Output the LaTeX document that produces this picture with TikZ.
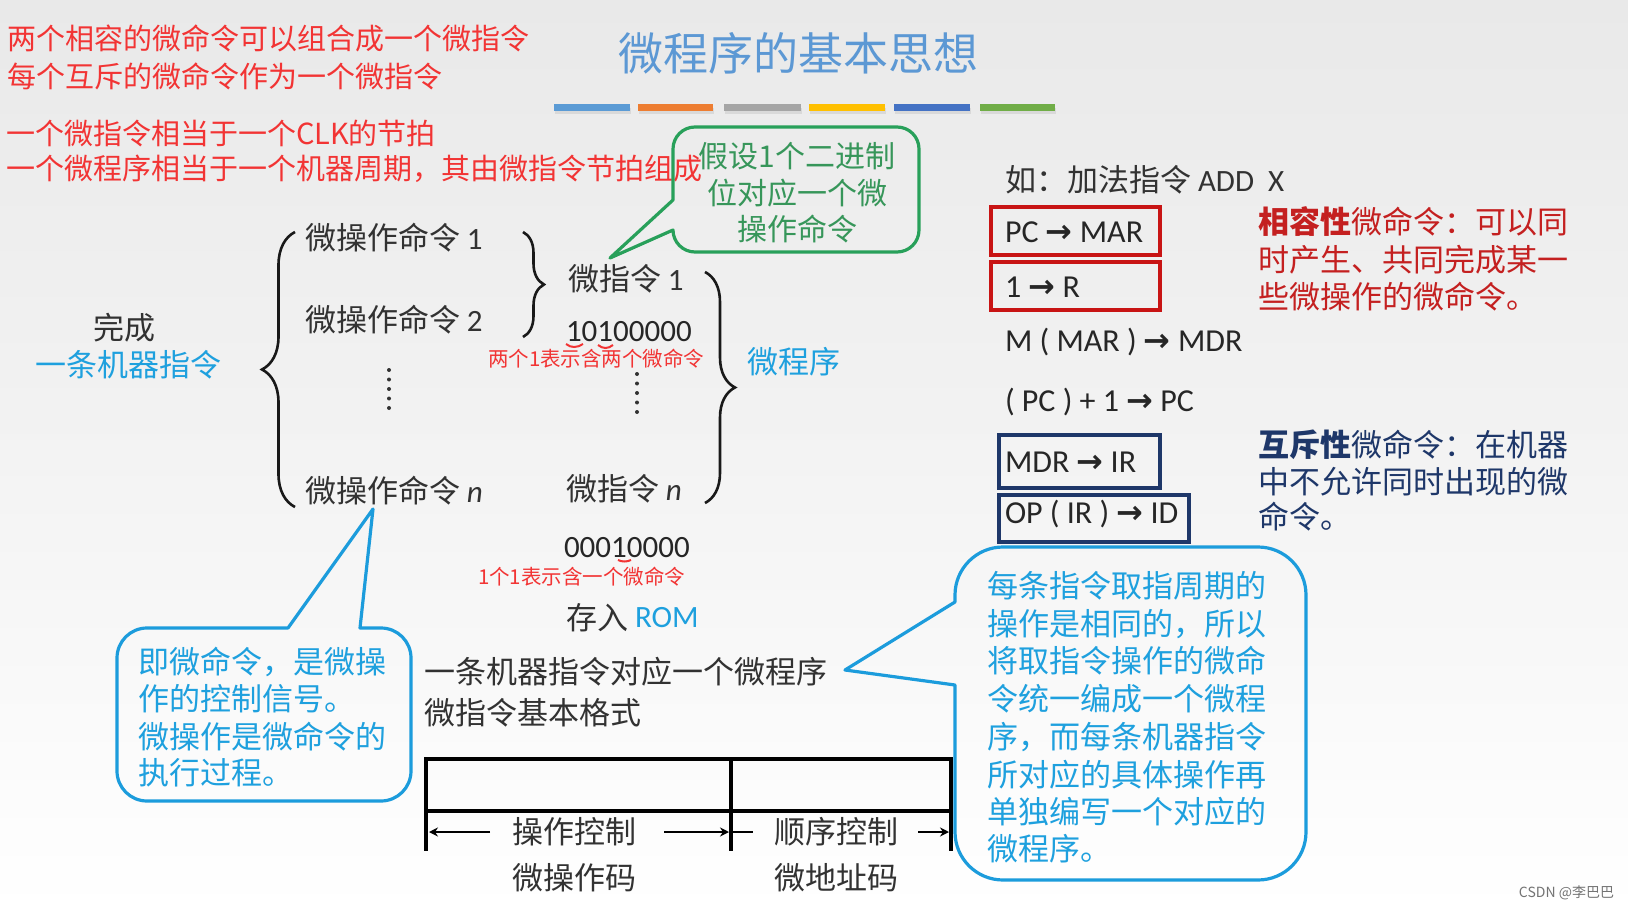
\documentclass[tikz,border=0pt]{standalone}
\usepackage{fontspec}
\setmainfont{Noto Sans CJK SC}
\newfontfamily\carl{Carlito}
\newfontfamily\djv{DejaVu Sans}
\usetikzlibrary{decorations.pathreplacing,arrows.meta}
\definecolor{redtop}{RGB}{242,52,52}
\definecolor{titleblue}{RGB}{92,152,212}
\definecolor{txtgray}{RGB}{50,50,50}
\definecolor{cyanT}{RGB}{30,160,222}
\definecolor{cyanB}{RGB}{28,156,220}
\definecolor{greenB}{RGB}{40,160,90}
\definecolor{greenT}{RGB}{55,150,90}
\definecolor{darkred}{RGB}{196,32,32}
\definecolor{boxred}{RGB}{200,20,20}
\definecolor{navy}{RGB}{30,55,105}
\definecolor{barA}{RGB}{91,155,213}
\definecolor{barB}{RGB}{237,125,49}
\definecolor{barC}{RGB}{165,165,165}
\definecolor{barD}{RGB}{255,192,0}
\definecolor{barE}{RGB}{68,114,196}
\definecolor{barF}{RGB}{112,173,71}
\definecolor{bgtop}{RGB}{233,233,233}
\definecolor{bgmid}{RGB}{243,243,243}
\newcommand\fsz[1]{\fontsize{#1}{#1}\selectfont}
\newcommand\arr{{\djv\bfseries →}}
\begin{document}
\begin{tikzpicture}[x=1pt,y=-1pt,
  every node/.style={inner sep=0pt,outer sep=0pt},
  cn/.style={font=\fsz{31},text=txtgray},
  lt/.style={anchor=west,font=\fsz{31},text=txtgray},
  topred/.style={anchor=west,font=\fsz{29},text=redtop},
  note/.style={anchor=west,font=\fsz{20.5},text=redtop},
  bubtxt/.style={anchor=west,font=\fsz{31},text=cyanT},
  grtxt/.style={font=\fsz{30},text=greenT},
  optxt/.style={anchor=west,font=\carl\fsz{31},text=black!85},
  eqtxt/.style={anchor=west,font=\carl\fsz{32},text=black!85},
  crimson/.style={anchor=west,font=\fsz{31},text=darkred},
  navyt/.style={anchor=west,font=\fsz{31},text=navy},
  bubline/.style={draw=cyanB,line width=3.2pt,line join=round},
  grline/.style={draw=greenB,line width=3.2pt,line join=round},
  brc/.style={decorate,decoration={brace,amplitude=#1},line width=2.6pt,draw=black!90},
  tbl/.style={line width=3.2pt,draw=black},
  tarrow/.style={line width=2.8pt,-{Stealth[length=9pt,width=9pt]}},
  redbox/.style={draw=boxred,line width=3.5pt},
  navybox/.style={draw=navy,line width=3.5pt},
  uline/.style={draw=redtop,line width=2pt}
]
% background
\shade[top color=bgtop,bottom color=white,middle color=bgmid] (0,0) rectangle (1628,912);
\path[use as bounding box] (0,0) rectangle (1628,912);

% title and colour bars
\node[font=\fsz{45},text=titleblue] (title) at (798,53) {微程序的基本思想};
\foreach \a/\b/\c in {554/630/barA,638/713/barB,724/801/barC,809/885/barD,894/970/barE,980/1055/barF}{
  \fill[black!15] (\a+1,108) rectangle (\b+1,114);
  \fill[\c] (\a,104) rectangle (\b,111);
}

% top-left red notes
\node[topred] (t1) at (7,38) {两个相容的微命令可以组合成一个微指令};
\node[topred] (t2) at (7,76) {每个互斥的微命令作为一个微指令};
\node[topred] (t3) at (6,133) {一个微指令相当于一个CLK的节拍};
\node[topred] (t4) at (6,169) {一个微程序相当于一个机器周期，其由微指令节拍组成};

% green bubble
\draw[grline] (610,258) -- (673,200) -- (673,149) arc[start angle=180,end angle=270,radius=22]
  -- (897,127) arc[start angle=270,end angle=360,radius=22]
  -- (919,230) arc[start angle=0,end angle=90,radius=22]
  -- (695,252) arc[start angle=90,end angle=180,radius=22]
  -- (673,230) -- cycle;
\node[grtxt] (g1) at (797,156) {假设1个二进制};
\node[grtxt] (g2) at (797,193) {位对应一个微};
\node[grtxt] (g3) at (797,229) {操作命令};

% left group
\node[cn] (wc) at (124,328) {完成};
\node[cn,text=cyanT] (jqzl) at (128,365) {一条机器指令};
\draw[brc=33] (295,507) -- (295,232);
\node[lt] (op1) at (305,238) {微操作命令 {\carl 1}};
\node[lt] (op2) at (305,320) {微操作命令 {\carl 2}};
\node[lt] (opn) at (305,491) {微操作命令 {\carl\itshape n}};
\foreach \yy in {370,379.5,389,398.5,408} \fill[txtgray] (389,\yy) circle[radius=2];
\draw[brc=21] (523,232) -- (523,337);

% micro-instructions
\node[lt] (mi1) at (568,279) {微指令 {\carl 1}};
\node[optxt] (code1) at (566,332) {10100000};
\draw[uline] (566,344) .. controls (571,348) and (577,348) .. (583,344);
\draw[uline] (598,345) .. controls (603,349) and (608,349) .. (613,345);
\node[note] (note1) at (488,359) {两个1表示含两个微命令};
\foreach \yy in {374,383.5,393,402.5,412} \fill[txtgray] (637,\yy) circle[radius=2];
\node[lt] (min) at (566,489) {微指令 {\carl\itshape n}};
\draw[brc=30] (705,272) -- (705,503);
\node[cn,text=cyanT] (wcx) at (794,362) {微程序};
\node[optxt] (code2) at (564,548) {00010000};
\draw[uline] (618,560) .. controls (622,562) and (627,562) .. (631,560);
\node[note] (note2) at (478,577) {1个1表示含一个微命令};
\node[lt] (cr) at (566,618) {存入};
\node[optxt,text=cyanT] (rom) at (635,618) {ROM};
\node[lt] (l1) at (424,672) {一条机器指令对应一个微程序};
\node[lt] (l2) at (424,713) {微指令基本格式};

% format table
\coordinate (tl) at (426,759);
\coordinate (tm) at (731,759);
\coordinate (tr) at (951,759);
\coordinate (ml) at (426,811);
\coordinate (mr) at (951,811);
\coordinate (bl) at (426,851);
\coordinate (bm) at (731,851);
\coordinate (br) at (951,851);
\draw[tbl] (tl) rectangle (mr);
\draw[tbl] (ml) -- (bl);
\draw[tbl] (tm) -- (bm);
\draw[tbl] (mr) -- (br);
\node[cn] (czkz) at (574,832) {操作控制};
\node[cn] (wczm) at (574,878) {微操作码};
\node[cn] (sxkz) at (836,832) {顺序控制};
\node[cn] (wdzm) at (836,878) {微地址码};
\coordinate (a1s) at (490,832);
\coordinate (a1e) at (429,832);
\coordinate (a2s) at (664,832);
\coordinate (a2e) at (729,832);
\coordinate (a3s) at (731,832);
\coordinate (a3e) at (753,832);
\coordinate (a4s) at (918,832);
\coordinate (a4e) at (949,832);
\draw[tarrow] (a1s) -- (a1e);
\draw[tarrow] (a2s) -- (a2e);
\draw[line width=2.8pt] (a3s) -- (a3e);
\draw[tarrow] (a4s) -- (a4e);

% left cyan bubble
\draw[bubline] (288,628) -- (373,509) -- (360,628) -- (381,628) arc[start angle=270,end angle=360,radius=30]
  -- (411,771) arc[start angle=0,end angle=90,radius=30]
  -- (147,801) arc[start angle=90,end angle=180,radius=30]
  -- (117,658) arc[start angle=180,end angle=270,radius=30]
  -- cycle;
\node[bubtxt] (a1) at (138,662) {即微命令，是微操};
\node[bubtxt] (a2) at (138,699) {作的控制信号。};
\node[bubtxt] (a3) at (138,737) {微操作是微命令的};
\node[bubtxt] (a4) at (138,773) {执行过程。};

% right side example
\node[lt] (ru) at (1005,180) {如：加法指令{\carl\ ADD\ \ X}};
\draw[redbox] (991,207) rectangle (1160,255);
\draw[redbox] (991,262) rectangle (1160,310);
\node[eqtxt] (o1) at (1005,232) {PC \arr{} MAR};
\node[eqtxt] (o2) at (1005,287) {1 \arr{} R};
\node[eqtxt] (o3) at (1005,342) {M ( MAR ) \arr{} MDR};
\node[eqtxt] (o4) at (1005,402) {( PC ) + 1 \arr{} PC};
\draw[navybox] (999,435) rectangle (1160,488);
\draw[navybox] (999,495) rectangle (1189,542);
\node[eqtxt] (o5) at (1005,462) {MDR \arr{} IR};
\node[eqtxt] (o6) at (1005,514) {OP ( IR ) \arr{} ID};

\node[crimson] (c1) at (1258,222) {{\bfseries 相容性}微命令：可以同};
\node[crimson] (c2) at (1258,260) {时产生、共同完成某一};
\node[crimson] (c3) at (1258,297) {些微操作的微命令。};
\node[navyt] (n1) at (1258,445) {{\bfseries 互斥性}微命令：在机器};
\node[navyt] (n2) at (1258,482) {中不允许同时出现的微};
\node[navyt] (n3) at (1258,517) {命令。};

% right cyan bubble
\draw[bubline] (955,685) -- (845,670) -- (955,602) -- (955,595) arc[start angle=180,end angle=270,radius=48]
  -- (1258,547) arc[start angle=270,end angle=360,radius=48]
  -- (1306,832) arc[start angle=0,end angle=90,radius=48]
  -- (1003,880) arc[start angle=90,end angle=180,radius=48]
  -- cycle;
\node[bubtxt] (b1) at (987,586) {每条指令取指周期的};
\node[bubtxt] (b2) at (987,624) {操作是相同的，所以};
\node[bubtxt] (b3) at (987,661) {将取指令操作的微命};
\node[bubtxt] (b4) at (987,699) {令统一编成一个微程};
\node[bubtxt] (b5) at (987,737) {序，而每条机器指令};
\node[bubtxt] (b6) at (987,775) {所对应的具体操作再};
\node[bubtxt] (b7) at (987,812) {单独编写一个对应的};
\node[bubtxt] (b8) at (987,849) {微程序。};

\node[anchor=east,font=\fsz{14},text=black!55] (wm) at (1614,893) {CSDN @李巴巴};
\end{tikzpicture}
\end{document}
